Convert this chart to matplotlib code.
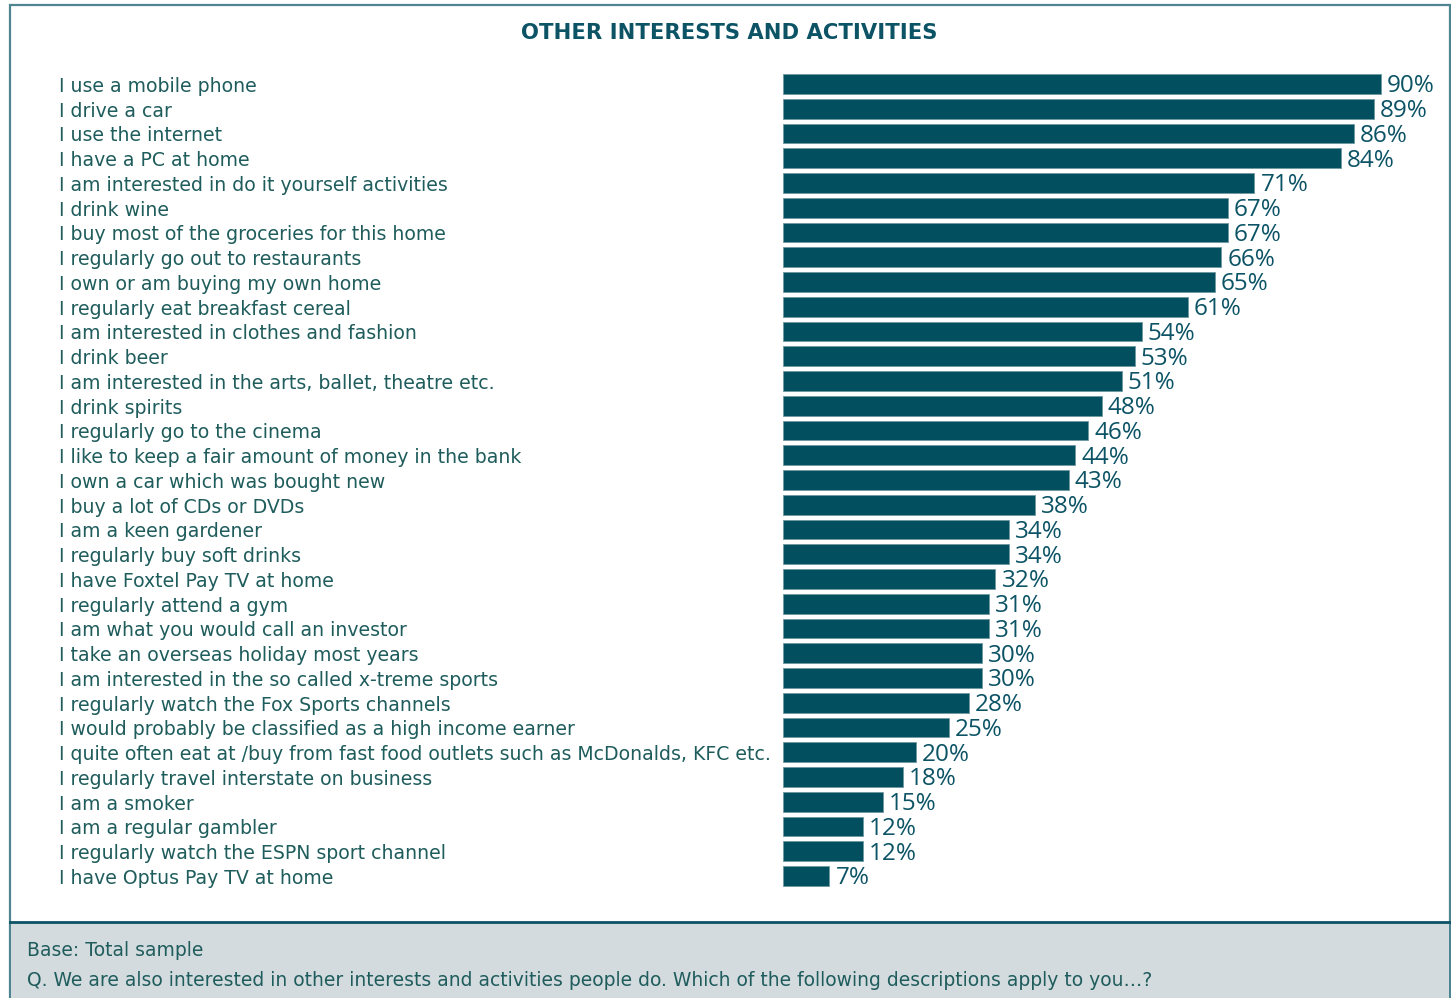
import matplotlib.pyplot as plt
from matplotlib.patches import Rectangle
from matplotlib.transforms import blended_transform_factory

# survey items and share of respondents (%)
items = [
    "I use a mobile phone",
    "I drive a car",
    "I use the internet",
    "I have a PC at home",
    "I am interested in do it yourself activities",
    "I drink wine",
    "I buy most of the groceries for this home",
    "I regularly go out to restaurants",
    "I own or am buying my own home",
    "I regularly eat breakfast cereal",
    "I am interested in clothes and fashion",
    "I drink beer",
    "I am interested in the arts, ballet, theatre etc.",
    "I drink spirits",
    "I regularly go to the cinema",
    "I like to keep a fair amount of money in the bank",
    "I own a car which was bought new",
    "I buy a lot of CDs or DVDs",
    "I am a keen gardener",
    "I regularly buy soft drinks",
    "I have Foxtel Pay TV at home",
    "I regularly attend a gym",
    "I am what you would call an investor",
    "I take an overseas holiday most years",
    "I am interested in the so called x-treme sports",
    "I regularly watch the Fox Sports channels",
    "I would probably be classified as a high income earner",
    "I quite often eat at /buy from fast food outlets such as McDonalds, KFC etc.",
    "I regularly travel interstate on business",
    "I am a smoker",
    "I am a regular gambler",
    "I regularly watch the ESPN sport channel",
    "I have Optus Pay TV at home",
]
values = [90, 89, 86, 84, 71, 67, 67, 66, 65, 61, 54, 53, 51, 48, 46, 44, 43,
          38, 34, 34, 32, 31, 31, 30, 30, 28, 25, 20, 18, 15, 12, 12, 7]

title = "OTHER INTERESTS AND ACTIVITIES"
base_note = "Base: Total sample"
question = ("Q. We are also interested in other interests and activities people do. "
            "Which of the following descriptions apply to you\u2026?")

BAR = "#02505f"
TEXT = "#1f5c5c"
TITLE = "#0b5365"
FRAME = "#4f8591"
FOOT_BG = "#d4dbdf"

W, H = 1451, 998
fig = plt.figure(figsize=(W / 100, H / 100), dpi=100)
fig.patch.set_facecolor("white")

# outer frame and grey footer panel (pixel coords -> figure fraction)
def fx(px):
    return px / W

def fy(py):
    return 1 - py / H

fig.patches.append(Rectangle((fx(10), fy(998)), fx(1450) - fx(10), fy(5) - fy(998),
                             transform=fig.transFigure, fill=False,
                             edgecolor=FRAME, linewidth=1.6, zorder=0))
fig.patches.append(Rectangle((fx(11), fy(998)), fx(1449) - fx(11), fy(922) - fy(998),
                             transform=fig.transFigure, facecolor=FOOT_BG,
                             edgecolor="none", zorder=0))
fig.lines.append(plt.Line2D([fx(10), fx(1450)], [fy(922), fy(922)],
                            transform=fig.transFigure, color=TITLE, linewidth=2))

fig.text(fx(729), fy(33), title, ha="center", va="center", color=TITLE,
         fontsize=15.2, fontweight="bold", family="DejaVu Sans")
fig.text(fx(27), fy(951), base_note, ha="left", va="center", color=TEXT,
         fontsize=13.5, family="DejaVu Sans")
fig.text(fx(27), fy(980), question, ha="left", va="center", color=TEXT,
         fontsize=13.5, family="DejaVu Sans")

# bar area: 0..100% spans x 783..1447, rows centred from y=84 to y=876
n = len(items)
step = (876 - 84) / (n - 1)
top = 84 - step / 2
bottom = 876 + step / 2
ax = fig.add_axes([fx(783), fy(bottom), fx(1447) - fx(783), fy(top) - fy(bottom)])
ax.set_xlim(0, 100)
ax.set_ylim(n - 0.5, -0.5)
ax.axis("off")

ypos = list(range(n))
ax.barh(ypos, values, height=0.8, color=BAR, edgecolor="#6f98a2", linewidth=0.6)

label_tr = blended_transform_factory(fig.transFigure, ax.transData)
for y, name, v in zip(ypos, items, values):
    ax.text(fx(59), y + 0.1, name, transform=label_tr, ha="left", va="center",
            color=TEXT, fontsize=13.6, family="DejaVu Sans")
    ax.text(v + 0.9, y + 0.1, f"{v}%", ha="left", va="center", color=TITLE,
            fontsize=17.5, family="Open Sans", fontstretch="normal")

fig.savefig("out.png", dpi=100)
